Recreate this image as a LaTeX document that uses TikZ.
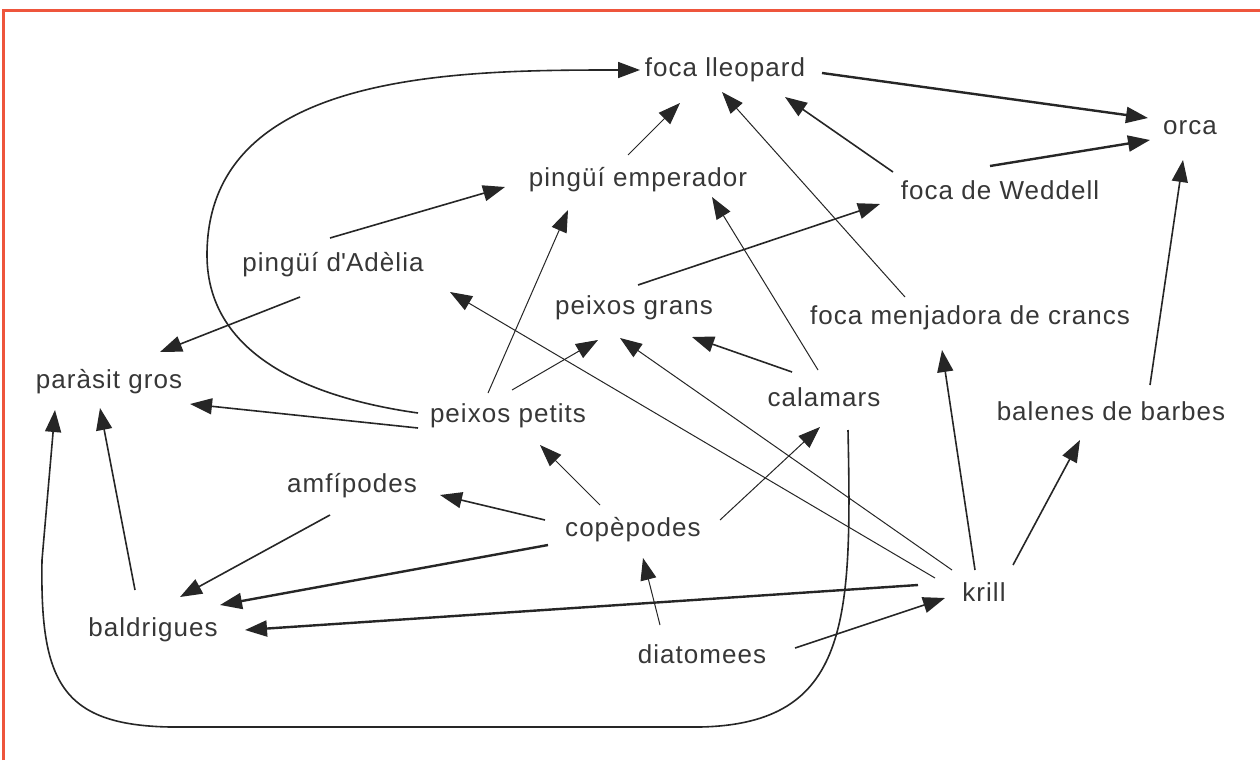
\documentclass[tikz,border=0pt]{standalone}
\usepackage{fontspec}
\setmainfont[LetterSpace=4]{Liberation Sans}
\usetikzlibrary{arrows.meta}
\definecolor{frame}{RGB}{238,85,60}
\definecolor{txt}{RGB}{55,55,55}
\newcommand\conn[7]{\draw[#7] ([shift={(#2,#3)}]#1.center) -- ([shift={(#5,#6)}]#4.center);}
\begin{document}
\begin{tikzpicture}[x=1pt,y=-1pt,
  lbl/.style={text=txt,font=\fontsize{26}{30}\selectfont,inner sep=0pt},
  arr/.style={-{Triangle[length=22pt,width=16pt]},draw=black!85},
  thinA/.style={arr,line width=1pt},
  midA/.style={arr,line width=1.6pt},
  thickA/.style={arr,line width=2.4pt}]
\useasboundingbox (0,0) rectangle (1260,760);
\fill[white] (0,0) rectangle (1260,760);
\draw[frame,line width=3pt] (3,760) -- (3,11) -- (1260,11);
% nodes
\node[lbl] (FL) at (725,70) {foca lleopard};
\node[lbl] (OR) at (1190,128) {orca};
\node[lbl] (PE) at (638,180) {pingüí emperador};
\node[lbl] (FW) at (1000,190) {foca de Weddell};
\node[lbl] (PA) at (333,265) {pingüí d\textquotesingle Adèlia};
\node[lbl] (PG) at (634,308) {peixos grans};
\node[lbl] (FM) at (970,318) {foca menjadora de crancs};
\node[lbl] (PR) at (109,382) {paràsit gros};
\node[lbl] (PP) at (508,416) {peixos petits};
\node[lbl] (CA) at (824,397) {calamars};
\node[lbl] (BB) at (1111,411) {balenes de barbes};
\node[lbl] (AM) at (352,486) {amfípodes};
\node[lbl] (CO) at (633,530) {copèpodes};
\node[lbl] (KR) at (984,592) {krill};
\node[lbl] (BA) at (153,630) {baldrigues};
\node[lbl] (DI) at (702,654) {diatomees};
% edges
\conn{FL}{97}{3}{OR}{-42}{-10}{thickA}
\conn{FW}{-10}{-24}{OR}{-40}{12}{thickA}
\conn{FW}{-107}{-18}{FL}{60}{27}{midA}
\conn{FM}{-65}{-21}{FL}{-3}{22}{thinA}
\conn{PE}{-10}{-25}{FL}{-45}{33}{thinA}
\conn{PA}{-3}{-27}{PE}{-133}{7}{midA}
\conn{PP}{-20}{-23}{PE}{-70}{30}{thinA}
\conn{CA}{-6}{-27}{PE}{74}{17}{thinA}
\conn{PG}{4}{-23}{FW}{-120}{14}{midA}
\conn{PA}{-33}{32}{PR}{51}{-30}{midA}
\conn{KR}{-49}{-14}{PA}{117}{27}{thinA}
\conn{KR}{-32}{-22}{PG}{-14}{30}{thinA}
\conn{CA}{-32}{-25}{PG}{58}{29}{midA}
\conn{PP}{4}{-26}{PG}{-36}{32}{thinA}
\conn{PP}{-90}{12}{PR}{81}{22}{midA}
\conn{CO}{-33}{-25}{PP}{32}{29}{thinA}
\conn{CO}{-88}{-10}{AM}{88}{9}{midA}
\conn{CO}{87}{-10}{CA}{-4}{30}{thinA}
\conn{CO}{-85}{15}{BA}{67}{-25}{thickA}
\conn{AM}{-22}{29}{BA}{27}{-33}{midA}
\conn{KR}{-66}{-7}{BA}{92}{0}{thickA}
\conn{DI}{-42}{-29}{CO}{10}{28}{thinA}
\conn{DI}{93}{-6}{KR}{-39}{6}{midA}
\conn{KR}{-9}{-22}{FM}{-28}{32}{midA}
\conn{KR}{29}{-27}{BB}{-31}{29}{midA}
\conn{BB}{39}{-26}{OR}{-7}{32}{midA}
\conn{BA}{-18}{-40}{PR}{-9}{26}{midA}
% loop from peixos petits to foca lleopard
\draw[midA] ([shift={(-90,-3)}]PP.center) to[out=172,in=-90] (207,255) to[out=90,in=180] ([shift={(-85,0)}]FL.center);
% big curve from calamars to parasit gros
\draw[midA] ([shift={(24,33)}]CA.center) .. controls (852,620) and (850,724) .. (700,727) -- (170,727) .. controls (60,725) and (40,680) .. (42,560) -- ([shift={(-54,28)}]PR.center);
\end{tikzpicture}
\end{document}
